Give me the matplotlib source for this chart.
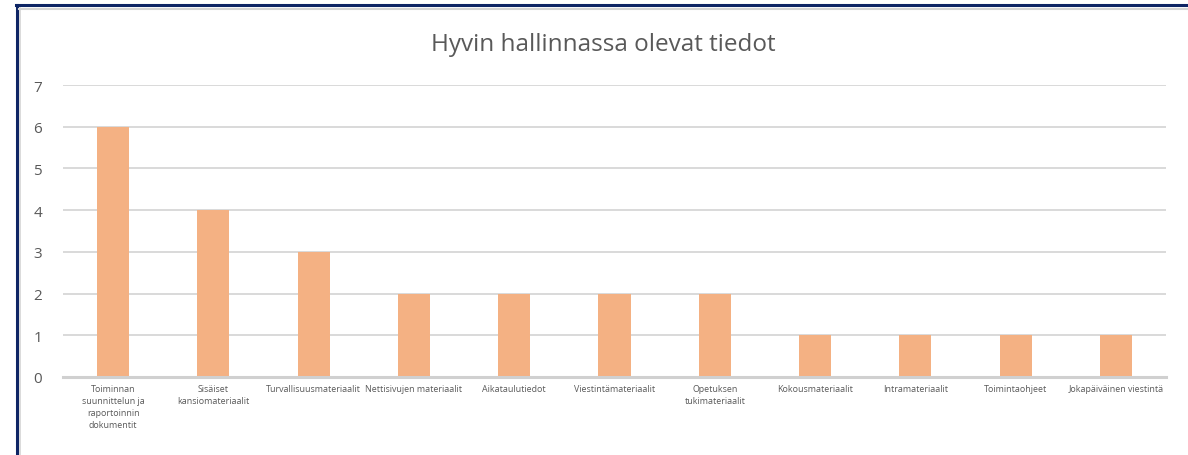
import matplotlib.pyplot as plt
from matplotlib.lines import Line2D

categories = ["Toiminnan\nsuunnittelun ja\nraportoinnin\ndokumentit",
              "Sisäiset\nkansiomateriaalit",
              "Turvallisuusmateriaalit",
              "Nettisivujen materiaalit",
              "Aikataulutiedot",
              "Viestintämateriaalit",
              "Opetuksen\ntukimateriaalit",
              "Kokousmateriaalit",
              "Intramateriaalit",
              "Toimintaohjeet",
              "Jokapäiväinen viestintä"]
values = [6, 4, 3, 2, 2, 2, 2, 1, 1, 1, 1]
yticks = [0, 1, 2, 3, 4, 5, 6, 7]

txt = "#595959"
plt.rcParams['font.family'] = ['Open Sans', 'DejaVu Sans']

f = plt.figure(figsize=(11.88, 4.56), dpi=100)
ax = f.add_axes([63/1188, 1-378/456, (1166-63)/1188, (378-86)/456])

x = list(range(len(categories)))
ax.bar(x, values, width=0.32, color="#F4B183", zorder=3)
ax.set_xlim(-0.5, len(categories)-0.5)
ax.set_ylim(0, 7)
ax.set_yticks(yticks)
ax.set_yticklabels([str(t) for t in yticks], fontsize=11, color=txt)
ax.set_xticks(x)
ax.set_xticklabels(categories, fontsize=6.4, color=txt, linespacing=1.45, va="top")
ax.tick_params(axis="both", length=0)
ax.tick_params(axis="y", pad=15)
ax.tick_params(axis="x", pad=5)
ax.grid(axis="y", color="#D9D9D9", linewidth=1.4, zorder=0)
ax.axhline(0, color="#D0D0D0", linewidth=2.2, zorder=4, clip_on=False)
for s in ax.spines.values():
    s.set_visible(False)

f.text(603/1188, 1-45/456, "Hyvin hallinnassa olevat tiedot", fontsize=17.5,
       color=txt, ha="center", va="center")

# frame of the screenshot
f.add_artist(Line2D([17/1188, 17/1188], [0, 1-6/456], color="#0E2565", linewidth=2.2, transform=f.transFigure))
f.add_artist(Line2D([16/1188, 1], [1-6/456, 1-6/456], color="#0E2565", linewidth=2.2, transform=f.transFigure))
f.add_artist(Line2D([19/1188, 1], [1-9.5/456, 1-9.5/456], color="#D4D4D4", linewidth=1.5, transform=f.transFigure))
f.add_artist(Line2D([20/1188, 20/1188], [0, 1-9/456], color="#D4D4D4", linewidth=1.2, transform=f.transFigure))

f.savefig("out.png", dpi=100)
